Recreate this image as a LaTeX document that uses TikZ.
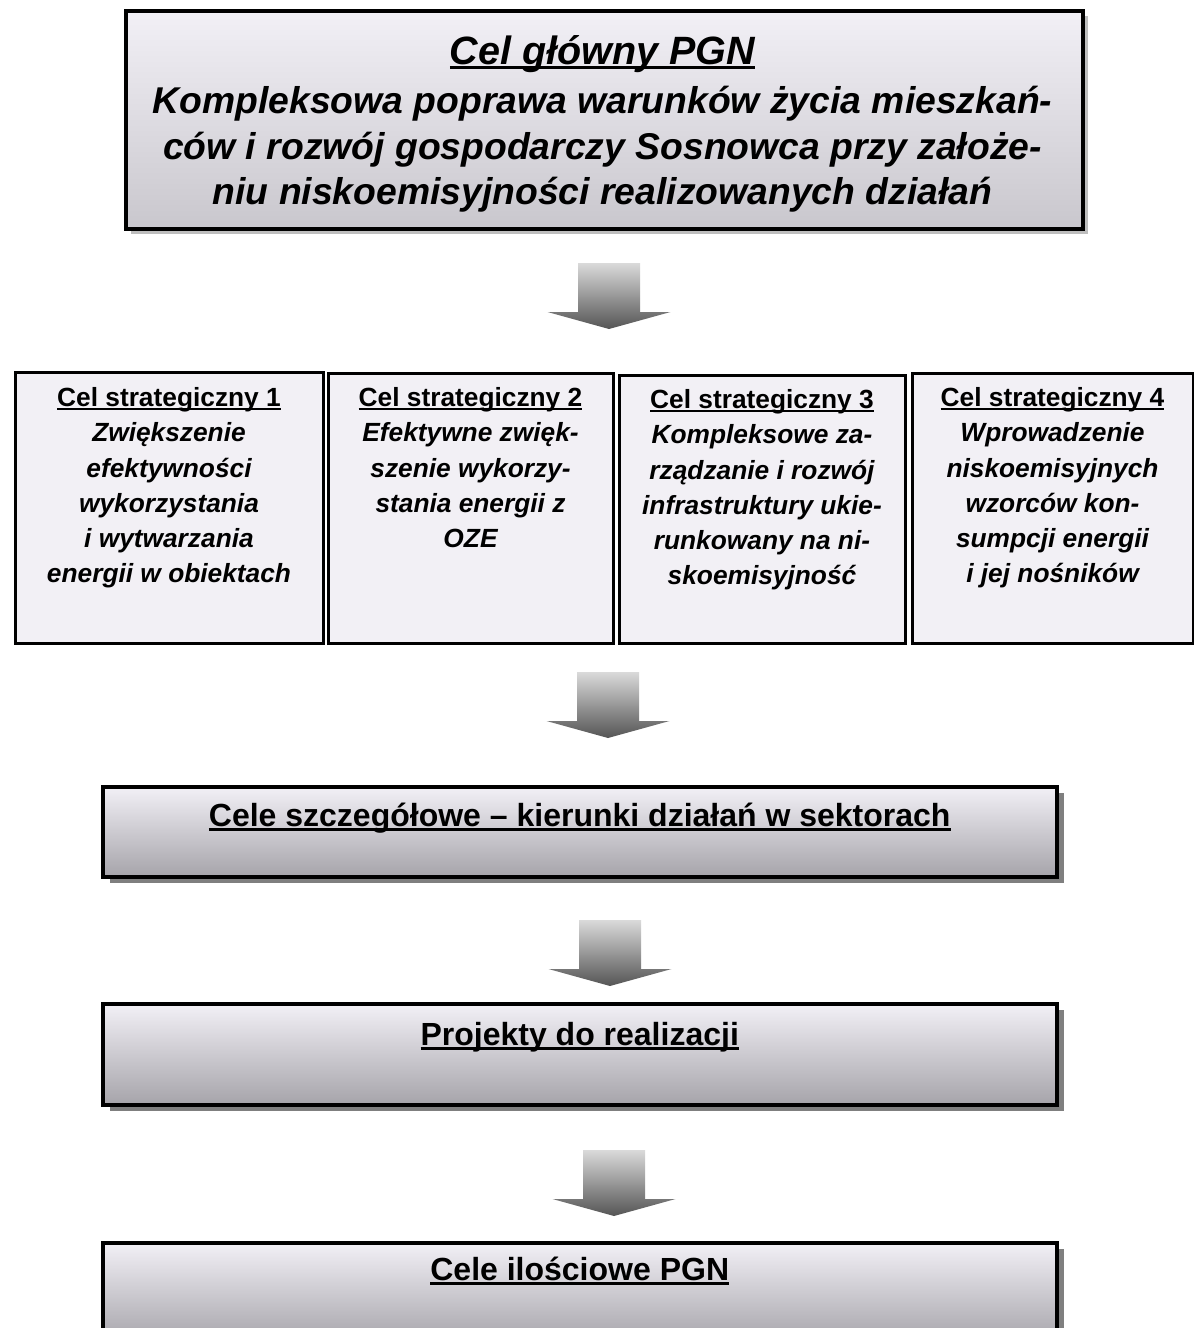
\documentclass[tikz,border=0pt]{standalone}
\usepackage{fontspec}
\setmainfont{Liberation Sans}
\usetikzlibrary{shadows}
\definecolor{boxlight}{HTML}{F2F0F6}
\definecolor{topdark}{HTML}{C9C7CD}
\definecolor{lowdark}{HTML}{A6A4AA}
\definecolor{stratfill}{HTML}{F2F0F5}
\definecolor{shadowlight}{HTML}{BEBEBE}
\definecolor{shadowdark}{HTML}{7F7F7F}
\definecolor{arrowtop}{HTML}{DADADA}
\definecolor{arrowbot}{HTML}{555555}
\newcommand{\ulin}[1]{\setbox0\hbox{#1}\leavevmode\rlap{\rule[-0.13em]{\wd0}{0.075em}}\box0}
\newcommand{\strathead}[1]{{\upshape\ulin{#1}}}
\tikzset{
  framebox/.style={draw=black, line width=3.5pt, rectangle, inner sep=0pt, anchor=north west},
  topbox/.style={framebox, top color=boxlight, bottom color=topdark,
    drop shadow={shadow xshift=5pt, shadow yshift=-5pt, fill=shadowlight, opacity=1}},
  lowbox/.style={framebox, top color=boxlight, bottom color=lowdark,
    drop shadow={shadow xshift=7pt, shadow yshift=-6pt, fill=shadowdark, opacity=1}},
  stratbox/.style={framebox, line width=3pt, fill=stratfill},
  toptext/.style={anchor=north, align=center, inner sep=0pt,
    font=\fontsize{37.3}{45.5}\selectfont\bfseries\itshape},
  strattext/.style={anchor=north, align=center, inner sep=0pt,
    font=\fontsize{26.3}{35.2}\selectfont\bfseries\itshape},
  lowtext/.style={anchor=north, align=center, inner sep=0pt,
    font=\fontsize{32}{38}\selectfont\bfseries},
  pics/blockarrow/.style={code={
    \shade[top color=arrowtop, bottom color=arrowbot]
      (-31,0) -- (31,0) -- (31,49) -- (61.5,49) -- (0,66) -- (-61.5,49) -- (-31,49) -- cycle;
  }},
}
\begin{document}
\begin{tikzpicture}[x=1pt,y=-1pt]
\useasboundingbox (0,0) rectangle (1194,1328);

% main goal
\node[topbox, minimum width=957pt, minimum height=218pt] (main) at (124,9) {};
\node[toptext] (maintxt) at (602.5,35) {{\fontsize{39.5}{46}\selectfont\ulin{Cel główny PGN}}\\[4pt]
Kompleksowa poprawa warunków życia mieszkań-\\
ców i rozwój gospodarczy Sosnowca przy założe-\\
niu niskoemisyjności realizowanych działań};

\coordinate (a1) at (609,263);
\pic at (a1) {blockarrow};

% strategic goals
\node[stratbox, minimum width=308pt, minimum height=271pt] (s1) at (13.5,370.5) {};
\node[stratbox, minimum width=285pt, minimum height=270pt] (s2) at (326.5,371.5) {};
\node[stratbox, minimum width=286pt, minimum height=268pt] (s3) at (617.5,373.5) {};
\node[stratbox, minimum width=281pt, minimum height=270pt] (s4) at (910.5,371.5) {};

\node[strattext] (s1t) at ([yshift=-17pt]s1.north) {\strathead{Cel strategiczny 1}\\
Zwiększenie\\efektywności\\wykorzystania\\i wytwarzania\\energii w obiektach};
\node[strattext] (s2t) at ([yshift=-16pt]s2.north) {\strathead{Cel strategiczny 2}\\
Efektywne zwięk-\\szenie wykorzy-\\stania energii z\\OZE};
\node[strattext] (s3t) at ([yshift=-16pt]s3.north) {\strathead{Cel strategiczny 3}\\
Kompleksowe za-\\rządzanie i rozwój\\infrastruktury ukie-\\runkowany na ni-\\skoemisyjność};
\node[strattext] (s4t) at ([yshift=-16pt]s4.north) {\strathead{Cel strategiczny 4}\\
Wprowadzenie\\niskoemisyjnych\\wzorców kon-\\sumpcji energii\\i jej nośników};

\coordinate (a2) at (608,672);
\pic at (a2) {blockarrow};

\node[lowbox, minimum width=954pt, minimum height=90pt] (c1) at (101,785) {};
\node[lowtext] (c1t) at ([yshift=-18pt]c1.north) {\ulin{Cele szczegółowe – kierunki działań w sektorach}};

\coordinate (a3) at (610,920);
\pic at (a3) {blockarrow};

\node[lowbox, minimum width=954pt, minimum height=101pt] (c2) at (101,1002) {};
\node[lowtext] (c2t) at ([yshift=-20pt]c2.north) {\ulin{Projekty do realizacji}};

\coordinate (a4) at (614,1150);
\pic at (a4) {blockarrow};

\node[lowbox, minimum width=954pt, minimum height=100pt] (c3) at (101,1241) {};
\node[lowtext] (c3t) at ([yshift=-16pt]c3.north) {\ulin{Cele ilościowe PGN}};
\end{tikzpicture}
\end{document}
